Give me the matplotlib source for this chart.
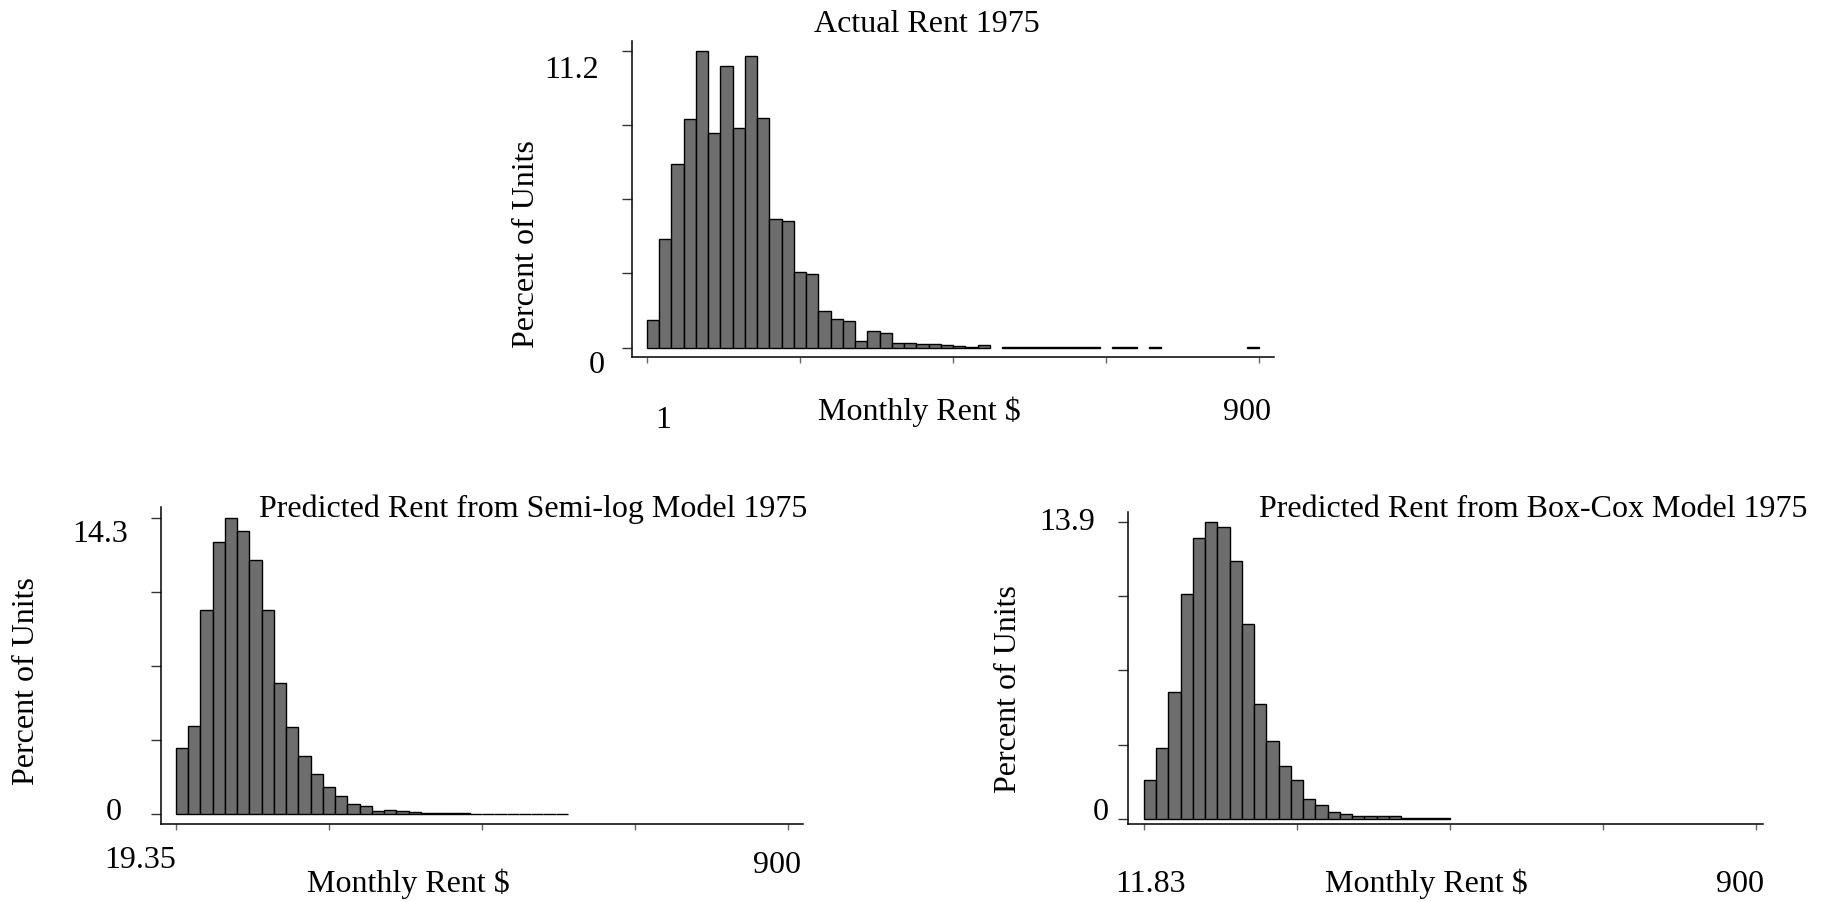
import numpy as np
import matplotlib
matplotlib.use("Agg")
import matplotlib.pyplot as plt

plt.rcParams['font.family'] = ['Liberation Serif', 'DejaVu Serif']

W, H = 1831, 902

# percent of units per bin (50 bins between the axis min and 900)
actual_min, actual_max = 1, 900
actual_pct = [1.06, 4.08, 6.92, 8.62, 11.2, 8.08, 10.61, 8.28, 11.01, 8.65,
              4.87, 4.79, 2.87, 2.78, 1.37, 1.09, 1.01, 0.26, 0.64, 0.57,
              0.19, 0.18, 0.15, 0.14, 0.11, 0.06, 0.04, 0.10, 0, 0.04,
              0.04, 0.02, 0.02, 0.03, 0.03, 0.02, 0.02, 0, 0.02, 0.02,
              0, 0.02, 0, 0, 0, 0, 0, 0, 0, 0.02]

semilog_min, semilog_max = 19.35, 900
semilog_pct = [3.18, 4.24, 9.87, 13.11, 14.3, 13.64, 12.28, 9.87, 6.33, 4.21,
               2.80, 1.94, 1.33, 0.87, 0.48, 0.40, 0.16, 0.19, 0.18, 0.10,
               0.05, 0.05, 0.05, 0.05, 0.02, 0.02, 0.02, 0.01, 0.01, 0.01,
               0.01, 0.01] + [0] * 18

boxcox_min, boxcox_max = 11.83, 900
boxcox_pct = [1.84, 3.34, 5.94, 10.53, 13.12, 13.9, 13.65, 12.07, 9.14, 5.37,
              3.67, 2.50, 1.81, 0.95, 0.67, 0.34, 0.25, 0.12, 0.12, 0.12,
              0.12, 0.06, 0.06, 0.03, 0.03] + [0] * 25

titles = ["Actual Rent 1975",
          "Predicted Rent from Semi-log Model 1975",
          "Predicted Rent from Box-Cox Model 1975"]
xlabel = "Monthly Rent $"
ylabel = "Percent of Units"

FS = 23


def px(x, y):
    return x / W, 1 - y / H


def draw(rect, xmin, xmax, pct, xlim, ylim):
    ax = fig.add_axes(rect)
    pct = np.array(pct)
    edges = np.linspace(xmin, xmax, len(pct) + 1)
    keep = pct > 0
    ax.bar(edges[:-1][keep], pct[keep], width=edges[1] - edges[0], align='edge',
           color='#6e6e6e', edgecolor='black', linewidth=1.0)
    ax.set_xlim(*xlim)
    ax.set_ylim(*ylim)
    top = pct.max()
    ax.set_yticks(np.linspace(0, top, 5))
    ax.set_xticks(np.linspace(xmin, xmax, 5))
    ax.set_xticklabels([])
    ax.set_yticklabels([])
    ax.spines['top'].set_visible(False)
    ax.spines['right'].set_visible(False)
    for s in ('left', 'bottom'):
        ax.spines[s].set_linewidth(1.1)
    ax.tick_params(axis='y', direction='out', length=7, width=1, color='#333333')
    ax.tick_params(axis='x', direction='out', length=4.5, width=1, color='#666666')
    return ax


fig = plt.figure(figsize=(W / 100, H / 100), dpi=100)

# top: actual rent
draw([0.3450, 0.6039, 0.3508, 0.3510], actual_min, actual_max, actual_pct,
     (-21.5, 922), (-0.362, 11.577))
fig.text(*px(927, 32.5), titles[0], ha='center', va='baseline', fontsize=FS)
fig.text(*px(572, 78), f"{max(actual_pct):g}", ha='center', va='baseline', fontsize=FS)
fig.text(*px(597, 373), "0", ha='center', va='baseline', fontsize=FS)
fig.text(*px(663, 428), f"{actual_min:g}", ha='center', va='baseline', fontsize=FS)
fig.text(*px(1247, 420), f"{actual_max:g}", ha='center', va='baseline', fontsize=FS)
fig.text(*px(919, 420), xlabel, ha='center', va='baseline', fontsize=FS)
fig.text(*px(527, 244), ylabel, ha='center', va='center', rotation=90, fontsize=FS)

# bottom left: semi-log
draw([0.08766, 0.08614, 0.35074, 0.35144], semilog_min, semilog_max, semilog_pct,
     (-2.94, 920.7), (-0.482, 14.80))
fig.text(*px(533, 517), titles[1], ha='center', va='baseline', fontsize=FS)
fig.text(*px(100, 541.7), f"{max(semilog_pct):g}", ha='center', va='baseline', fontsize=FS)
fig.text(*px(114, 820), "0", ha='center', va='baseline', fontsize=FS)
fig.text(*px(140, 868.3), f"{semilog_min:g}", ha='center', va='baseline', fontsize=FS)
fig.text(*px(777, 872.7), f"{semilog_max:g}", ha='center', va='baseline', fontsize=FS)
fig.text(*px(408.5, 891.7), xlabel, ha='center', va='baseline', fontsize=FS)
fig.text(*px(27, 681.5), ylabel, ha='center', va='center', rotation=90, fontsize=FS)

# bottom right: box-cox
draw([0.6163, 0.08647, 0.3467, 0.34623], boxcox_min, boxcox_max, boxcox_pct,
     (-10.66, 910.6), (-0.234, 14.37))
fig.text(*px(1533, 517), titles[2], ha='center', va='baseline', fontsize=FS)
fig.text(*px(1067, 530), f"{max(boxcox_pct):g}", ha='center', va='baseline', fontsize=FS)
fig.text(*px(1101, 820), "0", ha='center', va='baseline', fontsize=FS)
fig.text(*px(1151, 891.7), f"{boxcox_min:g}", ha='center', va='baseline', fontsize=FS)
fig.text(*px(1740, 891.7), f"{boxcox_max:g}", ha='center', va='baseline', fontsize=FS)
fig.text(*px(1426, 891.7), xlabel, ha='center', va='baseline', fontsize=FS)
fig.text(*px(1009, 689.5), ylabel, ha='center', va='center', rotation=90, fontsize=FS)

fig.savefig("out.png", dpi=100)
